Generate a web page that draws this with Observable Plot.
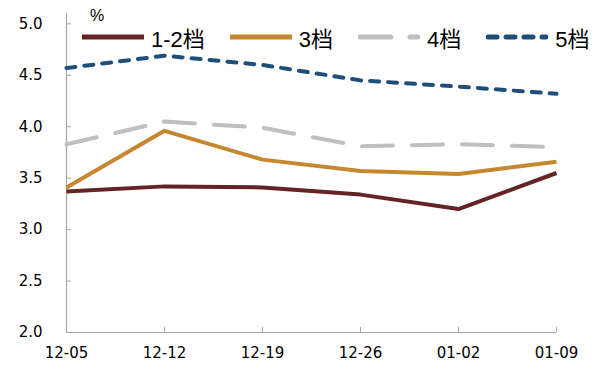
<!DOCTYPE html>
<html>
<head>
<meta charset="utf-8">
<script src="https://cdn.jsdelivr.net/npm/d3@7"></script>
<script src="https://cdn.jsdelivr.net/npm/@observablehq/plot@0.6"></script>
<style>
  html, body { margin: 0; padding: 0; background: #fff; }
  #wrap { position: relative; width: 599px; height: 372px; }
  #legend { position: absolute; left: 82px; top: 21px; display: flex; gap: 25px; align-items: center;
            font-family: "Liberation Sans", Arial, "Noto Sans CJK SC", sans-serif; font-size: 22px; color: #000; }
  .item { display: flex; align-items: center; gap: 7px; }
  #unit { position: absolute; left: 90px; top: 7px; font-family: "Liberation Sans", Arial, sans-serif; font-size: 16px; }
</style>
</head>
<body>
<div id="wrap">
  <div id="chart"></div>
  <div id="unit">%</div>
  <div id="legend"></div>
</div>
<script>
const dates = ["12-05", "12-12", "12-19", "12-26", "01-02", "01-09"];
const seriesNames = ["1-2档", "3档", "4档", "5档"];
const tier12 = [3.37, 3.42, 3.41, 3.34, 3.20, 3.55];
const tier3  = [3.41, 3.96, 3.68, 3.57, 3.54, 3.66];
const tier4  = [3.83, 4.05, 3.99, 3.81, 3.83, 3.80];
const tier5  = [4.57, 4.69, 4.60, 4.45, 4.39, 4.32];
const yTicks = [2.0, 2.5, 3.0, 3.5, 4.0, 4.5, 5.0];

const styles = {
  "1-2档": {stroke: "#642423", dash: null},
  "3档":   {stroke: "#c5872f", dash: null},
  "4档":   {stroke: "#bfbfbf", dash: "31,19"},
  "5档":   {stroke: "#1f4e79", dash: "9,9"}
};

const valuesBySeries = [tier12, tier3, tier4, tier5];
const data = [];
seriesNames.forEach((s, i) => valuesBySeries[i].forEach((v, j) => data.push({series: s, date: dates[j], value: v})));

const axisColor = "#a6a6a6";
const tickFont = "'DejaVu Sans', sans-serif";

const marks = [
  Plot.ruleX([dates[0]], {y1: 2, y2: 5.1, stroke: axisColor, strokeWidth: 1.2}),
  Plot.ruleY([2], {stroke: axisColor, strokeWidth: 1.2}),
  Plot.axisY({ticks: yTicks, tickSize: 0, tickPadding: 24, tickFormat: d => d.toFixed(1), label: null,
              fontSize: 15, fontFamily: tickFont, fill: "#000", style: "letter-spacing:2px"}),
  Plot.axisY({ticks: yTicks, tickSize: -5, text: null, label: null, stroke: axisColor}),
  Plot.axisX({ticks: dates, tickSize: 0, tickPadding: 15, label: null, fontSize: 15, fontFamily: tickFont, fill: "#000"}),
  Plot.axisX({ticks: dates.slice(1), tickSize: -5, text: null, label: null, stroke: axisColor})
];
for (const s of seriesNames) {
  const st = styles[s];
  marks.push(Plot.line(data.filter(d => d.series === s), {
    x: "date", y: "value", stroke: st.stroke, strokeWidth: 4,
    strokeDasharray: st.dash, strokeLinecap: st.dash ? "round" : "butt", strokeLinejoin: "round"
  }));
}

const chart = Plot.plot({
  width: 599, height: 372,
  marginLeft: 66, marginRight: 43, marginTop: 13, marginBottom: 40,
  x: {type: "point", domain: dates, padding: 0, label: null},
  y: {domain: [2, 5.1], label: null},
  style: {background: "#fff", overflow: "visible"},
  marks
});
document.getElementById("chart").appendChild(chart);

const legend = document.getElementById("legend");
for (const s of seriesNames) {
  const st = styles[s];
  const item = document.createElement("div");
  item.className = "item";
  const ns = "http://www.w3.org/2000/svg";
  const sw = document.createElementNS(ns, "svg");
  sw.setAttribute("width", 62); sw.setAttribute("height", 10);
  const ln = document.createElementNS(ns, "line");
  const pad = st.dash ? 2 : 0;
  ln.setAttribute("x1", pad); ln.setAttribute("x2", 62 - pad);
  ln.setAttribute("y1", 5); ln.setAttribute("y2", 5);
  ln.setAttribute("stroke", st.stroke); ln.setAttribute("stroke-width", 5);
  ln.setAttribute("stroke-linecap", "round");
  if (st.dash) ln.setAttribute("stroke-dasharray", st.dash);
  sw.appendChild(ln);
  const txt = document.createElement("span");
  txt.textContent = s;
  item.appendChild(sw); item.appendChild(txt);
  legend.appendChild(item);
}
</script>
</body>
</html>
